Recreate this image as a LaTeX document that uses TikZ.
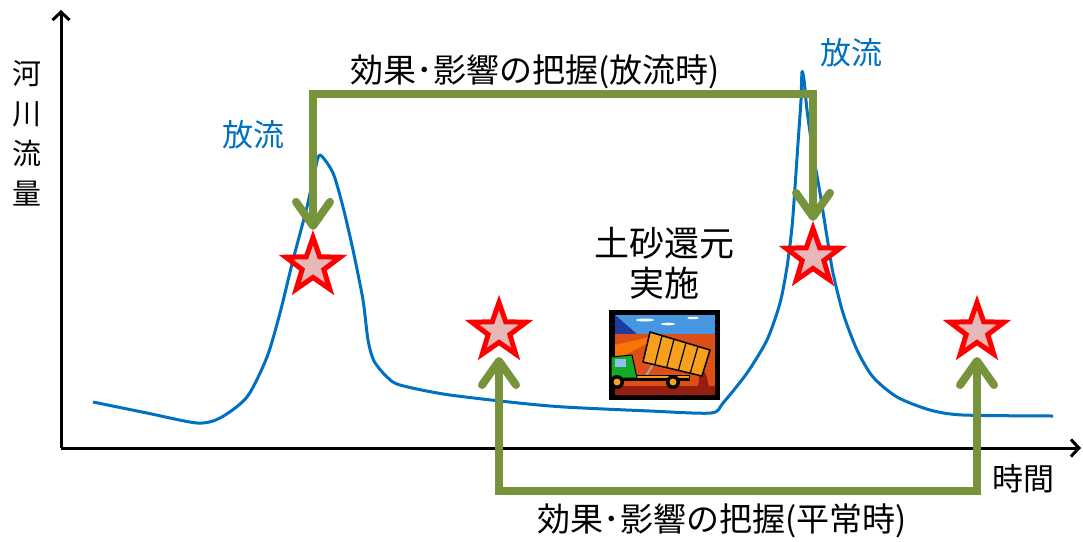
\documentclass[tikz,border=0pt]{standalone}
\usepackage{fontspec}
\setmainfont{Noto Sans CJK JP}
\usetikzlibrary{arrows.meta,shapes.geometric,positioning,calc}

\definecolor{flowblue}{RGB}{0,112,192}
\definecolor{effgreen}{RGB}{119,147,60}
\definecolor{starpink}{RGB}{230,185,184}
\definecolor{skyblue}{RGB}{70,150,225}
\definecolor{deepblue}{RGB}{30,60,160}
\definecolor{soil}{RGB}{222,78,24}
\definecolor{darksoil}{RGB}{150,30,15}
\definecolor{bedorange}{RGB}{247,160,30}
\definecolor{cabgreen}{RGB}{20,170,40}

\begin{document}
\begin{tikzpicture}[x=1pt,y=-1pt,
	axis line/.style = {line width=3pt,-{Straight Barb[length=8pt,width=17pt]}},
	effect arrow/.style = {draw=effgreen,line width=8pt,
		{Straight Barb[length=24pt,width=34pt,round]}-{Straight Barb[length=24pt,width=34pt,round]}},
	star node/.style = {star,star points=5,star point ratio=2.5,minimum size=57pt,
		inner sep=0pt,draw=red,fill=starpink,line width=5pt},
	label text/.style = {font=\fontsize{31}{31}\selectfont,inner sep=0pt},
	effect text/.style = {font=\fontsize{33}{33}\selectfont,inner sep=0pt},
	release/.style = {label text,text=flowblue}]

	\useasboundingbox (0,0) rectangle (1083,541);

	% axes
	\coordinate (origin) at (61,448);
	\coordinate (ytip) at (61,10);
	\coordinate (xtip) at (1081,448);
	\draw[axis line] (origin) -- (ytip);
	\draw[axis line] (origin) -- (xtip);
	\node[font=\fontsize{29}{40}\selectfont,align=center,inner sep=0pt] (ylab) at (27,133) {河\\川\\流\\量};
	\node[label text] (xlab) at (1023,479) {時間};

	% river discharge
	\draw[flowblue,line width=3pt,line join=round] plot[smooth,tension=0.45] coordinates {
		(93,402) (147,413) (197,423) (220,418) (247,397) (267,357) (280,313)
		(293,260) (307,207) (315,170) (320,155) (333,173) (343,207) (353,250)
		(363,300) (368,340) (374,361) (387,377) (400,385) (450,395) (550,406)
		(650,411) (711,413) (723,403) (747,373) (767,340) (780,303) (787,267)
		(792,227) (795,187) (798,143) (801,100) (802,72) (804,80) (807,110)
		(813,153) (820,193) (827,237) (833,273) (843,313) (857,350) (873,377)
		(897,397) (930,410) (963,415) (1053,416)};
	\node[release] (rel1) at (253,135) {放流};
	\node[release] (rel2) at (851,53) {放流};

	% observation points
	\node[star node] (s1) at (313,266) {};
	\node[star node] (s2) at (813,257) {};
	\node[star node] (s3) at (499,331) {};
	\node[star node] (s4) at (977,331) {};

	\coordinate (upper) at (560,94);
	\coordinate (lower) at (740,491);
	\draw[effect arrow] (s1.north) |- (upper) -| (s2.north);
	\draw[effect arrow] ([yshift=-26pt]s3.center) |- (lower) -| ([yshift=-26pt]s4.center);
	\node[effect text] (eff1) at (535,72) {効果･影響の把握(放流時)};
	\node[effect text] (eff2) at (722,521) {効果･影響の把握(平常時)};

	\node[font=\fontsize{35}{40}\selectfont,align=center,inner sep=0pt] (work) at (664,263) {土砂還元\\実施};

	% dump truck
	\fill[black] (609,310) rectangle (720,400);
	\fill[skyblue] (615,315) rectangle (715,334);
	\fill[deepblue] (615,315) -- (637,334) -- (615,334) -- cycle;
	\fill[white] (645,320) ellipse (9 and 1.5) (668,324) ellipse (7 and 1.3) (693,318) ellipse (6 and 1.2);
	\fill[soil] (615,334) rectangle (715,395);
	\fill[orange!80!soil] (615,345) -- (650,337) -- (660,337) -- (615,360) -- cycle;
	\fill[darksoil] (615,386) rectangle (715,395);
	\fill[darksoil] (698,368) .. controls (712,372) and (703,385) .. (715,394) -- (690,394) .. controls (700,385) .. (698,368) -- cycle;
	\draw[gray!70,line width=2pt] (646,376) -- (655,361);
	\fill[black] (610,375) rectangle (690,381);
	\fill[bedorange] (611,376) rectangle (689,378);
	\filldraw[fill=bedorange,draw=black,line width=1.5pt,line join=round] (650,332) -- (710,350) -- (702,376) -- (643,362) -- cycle;
	\foreach \t in {0.2,0.4,0.6,0.8}
		\draw[black,line width=1.2pt] ($(650,332)!\t!(710,350)$) -- ($(643,362)!\t!(702,376)$);
	\filldraw[fill=cabgreen,draw=black,line width=1pt] (611,357) -- (632,355) -- (637,378) -- (611,378) -- cycle;
	\fill[skyblue!60] (615,359) rectangle (626,367);
	\foreach \wx in {617,673} {
		\fill[black] (\wx,382) circle (7);
		\fill[bedorange] (\wx,382) circle (3.5);
	}
\end{tikzpicture}
\end{document}
